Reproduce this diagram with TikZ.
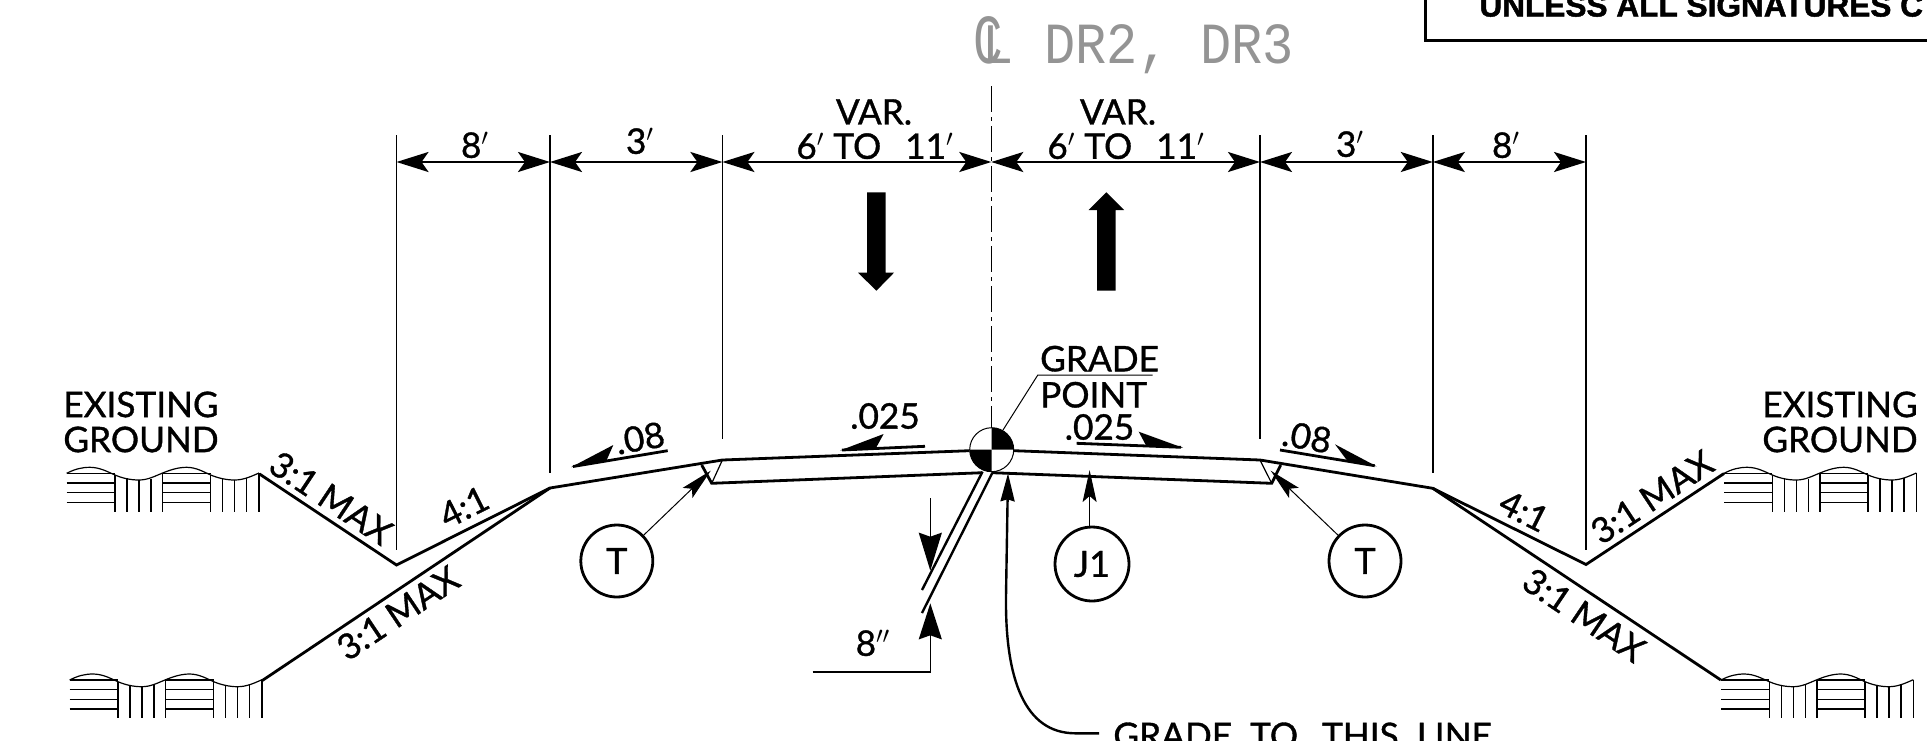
\documentclass[tikz,border=0pt]{standalone}
\usepackage{fontspec}
\setmainfont{Lato}[FakeBold=1.0]
\newfontfamily\strokefont{Liberation Mono}
\newfontfamily\noticefont{Liberation Sans}[BoldFont=* Bold,BoldFeatures={FakeBold=1.5}]
\usetikzlibrary{arrows.meta}
\begin{document}
\begin{tikzpicture}[x=0.5pt,y=-0.5pt,
    outline/.style ={line width=1.4pt},
    thinline/.style ={line width=0.6pt},
    extension/.style ={line width=0.8pt},
    dimension/.style ={line width=1.2pt, {Stealth[length=16pt,width=10pt,inset=3.5pt]}-{Stealth[length=16pt,width=10pt,inset=3.5pt]}},
    leader/.style ={line width=0.5pt, -{Stealth[length=16pt,width=7pt,inset=3pt]}},
    slopehead/.style ={fill=black, draw=none},
    slopebar/.style ={line width=1.4pt},
    blockarrow/.style ={fill=black, draw=none},
    callout/.style ={circle, draw, line width=1.4pt, minimum size=36pt, inner sep=0pt, font=\fontsize{18}{20}\selectfont},
    label/.style ={inner sep=0pt, font=\fontsize{17.6}{17.5}\selectfont, align=center},
    centerlabel/.style ={inner sep=0pt, text=black!42, font=\fontsize{26}{26}\strokefont}]
   \useasboundingbox (0,0) rectangle (1927,740);

   % notice box cut by the sheet
   \coordinate (BoxA) at (1425,-5);
   \coordinate (BoxB) at (1425,40);
   \coordinate (BoxC) at (1935,40);
   \draw[line width=1.5pt] (BoxA) -- (BoxB) -- (BoxC);
   \node[anchor=base west, inner sep=0pt, font=\fontsize{15.8}{16}\noticefont\bfseries] (notice) at (1479,16.5) {UNLESS ALL SIGNATURES C};

   % centre line title
   \node[centerlabel, yscale=1.35, xscale=.95] (clC) at (988,40) {C};
   \node[centerlabel, yscale=1.1] (clL) at (998,45) {L};
   \node[centerlabel, anchor=base west, yscale=1.12] (title) at (1044,63) {DR2, DR3};

   % section points
   \coordinate (S1) at (259.5,474);
   \coordinate (D1) at (396.5,565);
   \coordinate (K1) at (550,488);
   \coordinate (S2) at (262,680.7);
   \coordinate (P1) at (722.4,460);
   \coordinate (C1) at (969.5,450.7);
   \coordinate (C2) at (1014,450.7);
   \coordinate (P2) at (1260,460);
   \coordinate (K2) at (1432.8,488.3);
   \coordinate (D2) at (1586,564.5);
   \coordinate (S3) at (1724,473.5);
   \coordinate (S4) at (1720.8,680);
   \coordinate (U1) at (711.7,483.3);
   \coordinate (U2) at (982.5,472.7);
   \coordinate (U3) at (992,472.7);
   \coordinate (U4) at (1271.7,483.3);
   \coordinate (T1) at (701.7,465);
   \coordinate (T2) at (1280.7,465);

   % ground hatching
   \foreach \dx/\dy in {0/0,3/206.7,1657.3/0,1654.3/206.7} {
     \begin{scope}[shift={(\dx,\dy)}]
       \draw[thinline] (66.7,473.3) .. controls (75,469) and (82,467.3) .. (90,467.3)
          .. controls (100,467.3) and (108,472) .. (115,475)
          .. controls (122,478) and (130,480) .. (139,480)
          .. controls (148,480) and (155,476) .. (162.7,473)
          .. controls (170,470) and (178,467.3) .. (186.7,467.3)
          .. controls (196,467.3) and (204,472) .. (210.7,475)
          .. controls (218,478) and (226,480) .. (234.7,480)
          .. controls (244,480) and (252,476) .. (259,473);
       \foreach \y in {473.3,483,492.7,502.3} {
         \draw[thinline] (66.7,\y) -- (115,\y);
         \draw[thinline] (162.7,\y) -- (210.7,\y);
       }
       \foreach \x/\t in {115/475,127/478,139/480,151/478.5,162.7/473,210.7/475,222.7/478,234.7/480,246.7/477.5,259/473} {
         \draw[thinline] (\x,\t) -- (\x,511.7);
       }
     \end{scope}
   }

   % extension lines and dimensions
   \foreach \name/\x/\yend in {A/396.5/550,B/550/473,C/722.4/439,D/1260/439,E/1432.8/473,F/1586/550} {
     \coordinate (\name-top) at (\x,135);
     \coordinate (\name-bot) at (\x,\yend);
     \coordinate (\name-dim) at (\x,162);
     \draw[extension] (\name-top) -- (\name-bot);
   }
   \coordinate (Z-top) at (991.3,86);
   \coordinate (Z-bot) at (991.3,428);
   \coordinate (Z-dim) at (991.3,162);
   \draw[extension, dash pattern=on 13pt off 2.5pt on 2pt off 2.5pt] (Z-top) -- (Z-bot);

   \draw[dimension] (A-dim) -- (B-dim);
   \draw[dimension] (B-dim) -- (C-dim);
   \draw[dimension] (C-dim) -- (Z-dim);
   \draw[dimension] (Z-dim) -- (D-dim);
   \draw[dimension] (D-dim) -- (E-dim);
   \draw[dimension] (E-dim) -- (F-dim);

   \node[label] (w1) at (475,145) {8$'$};
   \node[label] (w2) at (640,141) {3$'$};
   \node[label] (w3) at (874,112) {VAR.};
   \node[label] (w4) at (875,146) {6$'$ TO\ \ \hspace{3pt}11$'$};
   \node[label] (w5) at (1118,112) {VAR.};
   \node[label] (w6) at (1126,146) {6$'$ TO\ \ \hspace{3pt}11$'$};
   \node[label] (w7) at (1350,144) {3$'$};
   \node[label] (w8) at (1506,145) {8$'$};

   % travel direction
   \fill[blockarrow] (867,192.3) -- (885.7,192.3) -- (885.7,272.7) -- (894,272.7) -- (876.4,290.7) -- (858,272.7) -- (867,272.7) -- cycle;
   \fill[blockarrow] (1097,290.7) -- (1115.7,290.7) -- (1115.7,210) -- (1124,210) -- (1106.3,192.3) -- (1088.7,210) -- (1097,210) -- cycle;

   % pavement and slopes
   \draw[outline] (S1) -- (D1) -- (K1) -- (P1) -- (C1);
   \draw[outline] (C2) -- (P2) -- (K2) -- (D2) -- (S3);
   \draw[outline] (K1) -- (S2);
   \draw[outline] (K2) -- (S4);
   \draw[outline] (T1) -- (U1) -- (U2);
   \draw[outline] (U3) -- (U4) -- (T2);
   \draw[thinline] (P1) -- (U1);
   \draw[thinline] (P2) -- (U4);

   % joint
   \coordinate (J1a) at (982.5,471.7);
   \coordinate (J1b) at (922,590);
   \coordinate (J2a) at (992.4,472.7);
   \coordinate (J2b) at (922,613);
   \draw[line width=1.2pt] (J1a) -- (J1b);
   \draw[line width=1.2pt] (J2a) -- (J2b);

   % grade point
   \coordinate (GP) at (991.7,449.7);
   \fill[white] (GP) circle (22);
   \fill (GP) -- (991.7,427.7) arc[start angle=90,end angle=0,x radius=22,y radius=-22] -- cycle;
   \fill (GP) -- (991.7,471.7) arc[start angle=270,end angle=180,x radius=22,y radius=-22] -- cycle;
   \draw[line width=0.5pt] (GP) circle (22);
   \node[label, anchor=south west] (gradeTxt) at (1039.8,372) {GRADE};
   \node[label, anchor=north west] (pointTxt) at (1039.8,381.5) {POINT};
   \coordinate (GPa) at (1152.5,375);
   \coordinate (GPb) at (1037.8,375);
   \coordinate (GPc) at (1003,430);
   \draw[line width=0.5pt] (GPa) -- (GPb) -- (GPc);

   % slope markers
   \node[label] (s1) at (885,416) {.025};
   \draw[slopebar] (925,446.3) -- (842,450);
   \fill[slopehead] (840,450.5) -- (883.6,434) -- (875.7,448.5) -- cycle;
   \node[label] (s2) at (1099.5,427) {.025};
   \draw[slopebar] (1076.6,443.3) -- (1181,447.3);
   \fill[slopehead] (1183,447.8) -- (1138.7,431.7) -- (1146.6,446.5) -- cycle;
   \node[label, rotate=10] (s3) at (640,438) {.08};
   \draw[slopebar] (667.7,450.7) -- (573,466.5);
   \fill[slopehead] (571,467.2) -- (613.3,445) -- (606.7,460) -- cycle;
   \node[label, rotate=-10] (s4) at (1307,437) {.08};
   \draw[slopebar] (1280,450) -- (1374.7,465.7);
   \fill[slopehead] (1376.7,466.4) -- (1335,444.3) -- (1346.7,460) -- cycle;

   % slope ratios
   \node[label, rotate=-33.6] (r1) at (331,498) {3:1 MAX};
   \node[label, rotate=26.6] (r2) at (464,507) {4:1};
   \node[label, rotate=33.8] (r3) at (398,613) {3:1 MAX};
   \node[label, rotate=-26.6] (r4) at (1524,511) {4:1};
   \node[label, rotate=33.5] (r5) at (1652,497) {3:1 MAX};
   \node[label, rotate=-34] (r6) at (1584,615) {3:1 MAX};

   \node[label] (gl) at (141,422) {EXISTING\\GROUND};
   \node[label] (gr) at (1840,422) {EXISTING\\GROUND};

   % callouts
   \node[callout] (Tl) at (616.8,561) {T};
   \node[callout] (Tr) at (1365,561) {T};
   \node[callout, minimum size=37pt] (J) at (1092,564) {J1};
   \coordinate (TlTip) at (710.7,470.7);
   \coordinate (TrTip) at (1270.7,470.7);
   \coordinate (JTip) at (1089.6,470);
   \draw[leader] (Tl) -- (TlTip);
   \draw[leader] (Tr) -- (TrTip);
   \draw[leader] (J.north -| JTip) -- (JTip);

   % joint width
   \coordinate (Wa) at (930.3,498.3);
   \coordinate (Wb) at (930.3,570.7);
   \coordinate (Wc) at (930.3,603.3);
   \coordinate (Wd) at (930.3,671.7);
   \coordinate (We) at (812.5,671.7);
   \draw[line width=0.8pt, -{Stealth[length=19pt,width=11.5pt,inset=2pt]}] (Wa) -- (Wb);
   \draw[line width=0.8pt, -{Stealth[length=18pt,width=11.5pt,inset=2pt]}] (We) -- (Wd) -- (Wc);
   \node[label] (w9) at (873,643) {8$''$};

   % grade line callout
   \coordinate (GLa) at (1099,733.3);
   \coordinate (GLb) at (1075,733.3);
   \coordinate (GLc) at (1008,473.3);
   \draw[line width=1.2pt, -{Stealth[length=14pt,width=7pt,inset=1pt]}] (GLa) -- (GLb) .. controls (1025,733) and (1005,680) .. (1006,596) -- (GLc);
   \node[label, anchor=base west] (grade) at (1113,748) {GRADE\ \ TO\ \ \hspace{3pt}THIS\ \ LINE};
\end{tikzpicture}
\end{document}
